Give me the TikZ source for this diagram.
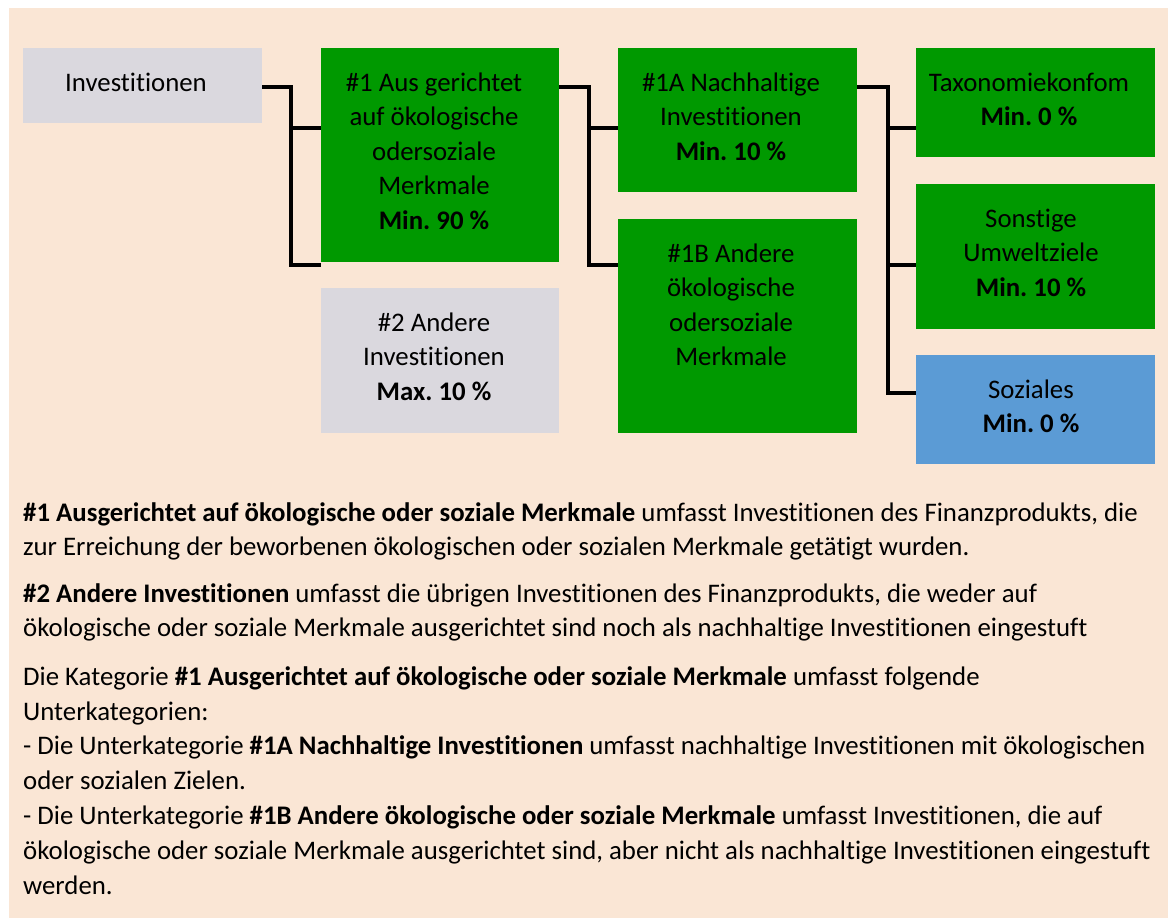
\documentclass[tikz,border=0pt]{standalone}
\usepackage{fontspec}
\setmainfont{Carlito}[Ligatures=NoCommon]
\frenchspacing
\definecolor{bgc}{RGB}{250,230,213}
\definecolor{gc}{RGB}{0,153,0}
\definecolor{grc}{RGB}{218,216,222}
\definecolor{bc}{RGB}{91,155,213}
\begin{document}
\begin{tikzpicture}[x=1pt,y=-1pt,
  box/.style={anchor=north west,inner sep=0pt,outer sep=0pt,draw=none},
  gbox/.style={box,fill=gc},
  greybox/.style={box,fill=grc},
  bbox/.style={box,fill=bc},
  lbl/.style={anchor=base,align=center,inner sep=0pt,font=\frenchspacing\fontsize{26.8}{34.5}\selectfont},
  para/.style={anchor=base west,align=left,inner sep=0pt,font=\frenchspacing\fontsize{26.8}{34.8}\selectfont},
  conn/.style={line width=4pt,black,line join=miter}]
\useasboundingbox (0,0) rectangle (1175,921);
\fill[white] (0,0) rectangle (1175,921);
\fill[bgc] (9,8) rectangle (1168,918);
% boxes
\node[greybox,minimum width=239pt,minimum height=75pt] (inv) at (23,48) {};
\node[gbox,minimum width=238pt,minimum height=214pt] (n1) at (321,48) {};
\node[greybox,minimum width=238pt,minimum height=145pt] (n2) at (321,288) {};
\node[gbox,minimum width=239pt,minimum height=144pt] (n1a) at (618,48) {};
\node[gbox,minimum width=239pt,minimum height=214pt] (n1b) at (618,219) {};
\node[gbox,minimum width=239pt,minimum height=109pt] (tax) at (916,48) {};
\node[gbox,minimum width=239pt,minimum height=145pt] (son) at (916,184) {};
\node[bbox,minimum width=239pt,minimum height=109pt] (soz) at (916,355) {};
% labels (anchor base = baseline of the last line)
\node[lbl] (tinv) at (136,91) {Investitionen};
\node[lbl] (tn1) at (434,229) {\#1 Aus gerichtet\\auf ökologische\\odersoziale\\Merkmale\\\textbf{Min. 90 \%}};
\node[lbl] (tn2) at (434,400) {\#2 Andere\\Investitionen\\\textbf{Max. 10 \%}};
\node[lbl] (tn1a) at (731,160) {\#1A Nachhaltige\\Investitionen\\\textbf{Min. 10 \%}};
\node[lbl] (tn1b) at (731,365.5) {\#1B Andere\\ökologische\\odersoziale\\Merkmale};
\node[lbl] (ttax) at (1029,125.5) {Taxonomiekonfom\\\textbf{Min. 0 \%}};
\node[lbl] (tson) at (1031,296) {Sonstige\\Umweltziele\\\textbf{Min. 10 \%}};
\node[lbl] (tsoz) at (1031,432.5) {Soziales\\\textbf{Min. 0 \%}};
% connectors
\coordinate (j1) at (291,87);
\draw[conn] (inv.east |- j1) -- (j1) -- (291,265) -- (n1.west |- 0,265);
\draw[conn] (291,128) -- (n1.west |- 0,128);
\draw[conn] (n1.east |- 0,87) -- (589,87) -- (589,265) -- (n1b.west |- 0,265);
\draw[conn] (589,128) -- (n1a.west |- 0,128);
\draw[conn] (n1a.east |- 0,87) -- (888,87) -- (888,393) -- (soz.west |- 0,393);
\draw[conn] (888,128) -- (tax.west |- 0,128);
\draw[conn] (888,265) -- (son.west |- 0,265);
% paragraphs (anchor base west = baseline of the last line)
\node[para] (p1) at (23,555.8) {\textbf{\#1 Ausgerichtet auf ökologische oder soziale Merkmale} umfasst Investitionen des Finanzprodukts, die\\zur Erreichung der beworbenen ökologischen oder sozialen Merkmale getätigt wurden.};
\node[para] (p2) at (23,636.8) {\textbf{\#2 Andere Investitionen} umfasst die übrigen Investitionen des Finanzprodukts, die weder auf\\ökologische oder soziale Merkmale ausgerichtet sind noch als nachhaltige Investitionen eingestuft};
\node[para] (p3) at (23,894) {Die Kategorie \textbf{\#1 Ausgerichtet auf ökologische oder soziale Merkmale} umfasst folgende\\Unterkategorien:\\- Die Unterkategorie \textbf{\#1A Nachhaltige Investitionen} umfasst nachhaltige Investitionen mit ökologischen\\oder sozialen Zielen.\\- Die Unterkategorie \textbf{\#1B Andere ökologische oder soziale Merkmale} umfasst Investitionen, die auf\\ökologische oder soziale Merkmale ausgerichtet sind, aber nicht als nachhaltige Investitionen eingestuft\\werden.};
\end{tikzpicture}
\end{document}
